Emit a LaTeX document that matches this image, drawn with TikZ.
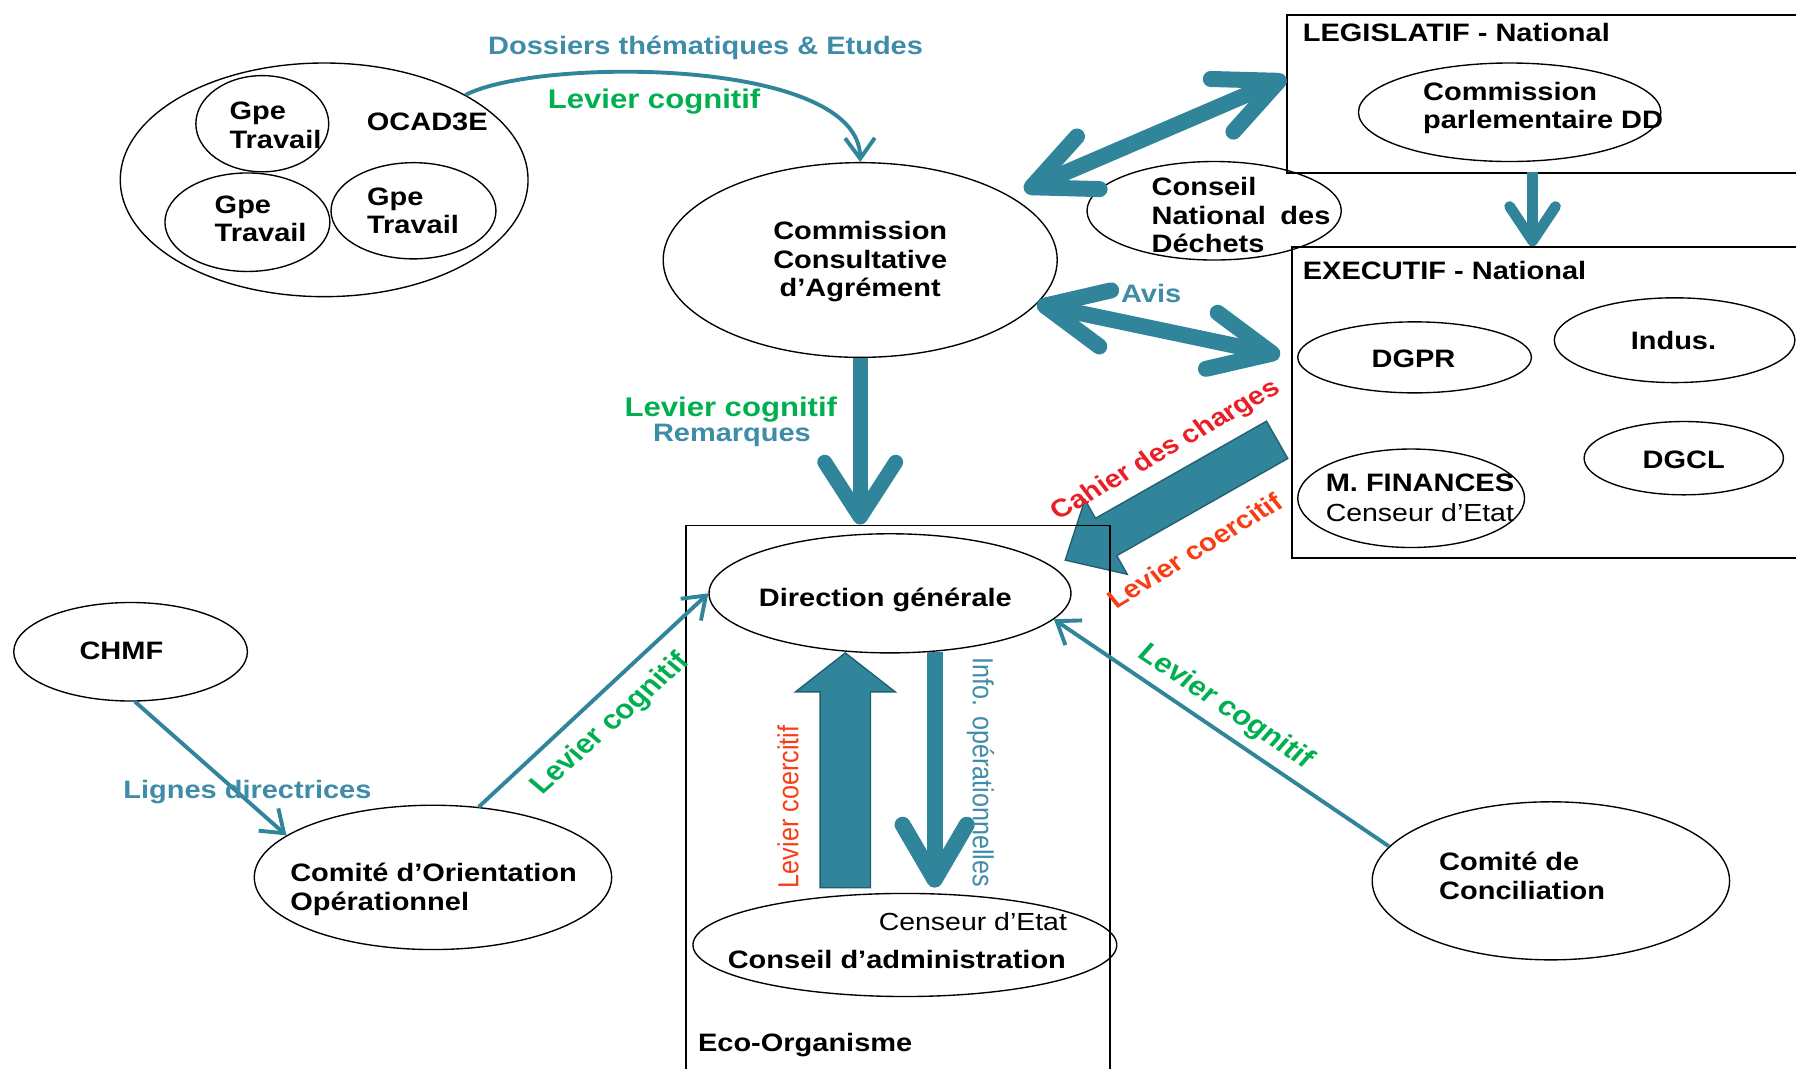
\documentclass[tikz,border=0pt]{standalone}
\usepackage{fontspec}
\setmainfont{Liberation Sans}
\usetikzlibrary{arrows.meta,shapes.geometric,calc}
\definecolor{teal1}{RGB}{49,133,155}
\definecolor{tealdk}{RGB}{33,95,112}
\definecolor{tealtxt}{RGB}{62,140,168}
\definecolor{grn}{RGB}{0,176,80}
\definecolor{redc}{RGB}{235,30,40}
\definecolor{redo}{RGB}{250,60,20}
\begin{document}
\begin{tikzpicture}[x=0.5pt,y=-0.5pt,
  ell/.style={ellipse, draw=black, line width=0.6pt, inner sep=0pt},
  boxn/.style={rectangle, draw=black, line width=0.8pt, inner sep=0pt, anchor=north west},
  tb/.style={font=\bfseries\fontsize{11}{12.5}\selectfont, inner sep=0pt, yshift=-1.2pt, xscale=1.15, align=left},
  tbg/.style={font=\bfseries\fontsize{11.8}{13}\selectfont, inner sep=0pt, yshift=-1.2pt, xscale=1.15, text=grn},
  tr/.style={font=\fontsize{10.8}{12.5}\selectfont, inner sep=0pt, yshift=-1.2pt, xscale=1.15},
  tarr/.style={draw=teal1, line width=1.7pt, -{Straight Barb[length=9pt,width=13pt]}},
  dbl/.style={draw=teal1, line width=7pt, {Straight Barb[round,length=27pt,width=25pt]}-{Straight Barb[round,length=27pt,width=25pt]}},
  blk/.style={fill=teal1, draw=tealdk, line width=0.6pt}
]
\useasboundingbox (0,0) rectangle (1568,933);

% block arrows
\path[blk] (1124.3,400.3) -- (975.0,485.1) -- (984.2,501.4) -- (930,489) -- (947.2,436.2) -- (956.4,452.5) -- (1105.7,367.7) -- cycle;
\path[blk] (716,775) -- (716,604) -- (694.5,604) -- (738,570) -- (781.5,604) -- (760,604) -- (760,775) -- cycle;

% boxes
\node[boxn, minimum width=228.5pt, minimum height=69pt] (leg) at (1123,12) {};
\node[boxn, minimum width=226.5pt, minimum height=135.5pt] (exe) at (1127,215) {};
\node[boxn, minimum width=185pt, minimum height=243.5pt] (eco) at (598,458) {};

% ellipses
\node[ell, minimum width=178pt, minimum height=102pt] (ocad) at (283,157) {};
\node[ell, minimum width=58pt, minimum height=42pt] (g1) at (229,108) {};
\node[ell, minimum width=72pt, minimum height=43pt] (g2) at (216,194) {};
\node[ell, minimum width=72pt, minimum height=42pt] (g3) at (361,184) {};
\node[ell, minimum width=172pt, minimum height=85pt] (comm) at (751,227) {};
\node[ell, minimum width=132pt, minimum height=43pt] (cpd) at (1318,98) {};
\node[ell, minimum width=111pt, minimum height=43pt] (cnd) at (1060,184) {};
\node[ell, minimum width=102pt, minimum height=31pt] (dgpr) at (1235,312) {};
\node[ell, minimum width=105pt, minimum height=37pt] (indus) at (1462,297) {};
\node[ell, minimum width=87pt, minimum height=32pt] (dgcl) at (1470,400) {};
\node[ell, minimum width=99pt, minimum height=43pt] (mfin) at (1232,435) {};
\node[ell, minimum width=158pt, minimum height=52pt] (dg) at (777,518) {};
\node[ell, minimum width=185pt, minimum height=45pt] (ca) at (790,825) {};
\node[ell, minimum width=102pt, minimum height=43pt] (chmf) at (114,569) {};
\node[ell, minimum width=156pt, minimum height=63pt] (coo) at (378,766) {};
\node[ell, minimum width=156pt, minimum height=69pt] (conc) at (1354,769) {};

% node texts
\node[tb, anchor=west] (tg1) at (200,107) {Gpe\\Travail};
\node[tb, anchor=west] (tg2) at (187,188.5) {Gpe\\Travail};
\node[tb, anchor=west] (tg3) at (320,181.5) {Gpe\\Travail};
\node[tb] (tocad) at (373,104) {OCAD3E};
\node[tb, align=center] (tcomm) at (751,226) {Commission\\Consultative\\d’Agrément};
\node[tb, anchor=west] (tleg) at (1137,26) {LEGISLATIF - National};
\node[tb, anchor=west] (tcpd) at (1242,92) {Commission\\parlementaire DD};
\node[tb, anchor=west] (tcnd) at (1005,185.5) {Conseil\\National\hspace{0.5em}des\\Déchets};
\node[tb, anchor=west] (texe) at (1137,234) {EXECUTIF - National};
\node[tb] (tdgpr) at (1234,311) {DGPR};
\node[tb] (tindus) at (1461,295) {Indus.};
\node[tb] (tdgcl) at (1470,399) {DGCL};
\node[tb, anchor=west] (tmf) at (1157,419) {M. FINANCES};
\node[tr, anchor=west] (tmfc) at (1157,445) {Censeur d’Etat};
\node[tb] (tdg) at (773,521) {Direction générale};
\node[tr, anchor=east] (tcac) at (932,802) {Censeur d’Etat};
\node[tb] (tca) at (783,835) {Conseil d’administration};
\node[tb, anchor=west] (teco) at (609,910) {Eco-Organisme};
\node[tb] (tchmf) at (106,566) {CHMF};
\node[tb, anchor=west] (tcoo) at (253,774) {Comité d’Orientation\\Opérationnel};
\node[tb, anchor=west] (tconc) at (1256,762) {Comité de\\Conciliation};

% connectors
\draw[tarr] (ocad.31) .. controls (470,50) and (750,50) .. (comm.north);
\draw[dbl, shorten <=6.5pt] (comm.23) -- ($(leg.north west)!0.4!(leg.south west)$);
\draw[dbl, shorten >=4.75pt] (comm.-14) -- ($(exe.north west)!0.356!(exe.south west)$);
\coordinate (legb) at (1338,150);
\draw[teal1, line width=4.7pt, -{Straight Barb[round,length=15pt,width=20pt]}] (legb) -- (legb |- exe.north);
\draw[teal1, line width=6.5pt, -{Straight Barb[round,length=24pt,width=31pt]}] (comm.south) -- (comm.south |- eco.north);
\coordinate (itop) at (816,569);
\coordinate (ibot) at (816,775);
\draw[teal1, line width=7pt, -{Straight Barb[round,length=24pt,width=28pt]}] (itop) -- (ibot);
\draw[tarr] (chmf.-85) -- (coo.164);
\draw[tarr] (coo.57) -- (dg.west);
\draw[tarr] (conc.168) -- (dg.-9);

% labels
\node[tb, text=tealtxt] (l1) at (616,39) {Dossiers thématiques \& Etudes};
\node[tbg] (l2) at (571,86) {Levier cognitif};
\node[tbg] (l3) at (638,355) {Levier cognitif};
\node[tb, text=tealtxt] (l4) at (639,378) {Remarques};
\node[tb, text=tealtxt] (l5) at (1005,254) {Avis};
\node[tb, text=tealtxt] (l6) at (216,689) {Lignes directrices};
\node[tb, text=redc, rotate=33.6] (l7) at (1018,391) {Cahier des charges};
\node[tb, text=redo, rotate=35] (l8) at (1043,478) {Levier coercitif};
\node[tbg, rotate=45.8] (l9) at (533,630) {Levier cognitif};
\node[tbg, rotate=-37.5] (l10) at (1070,615) {Levier cognitif};
\node[tr, font=\fontsize{11}{12}\selectfont, text=redo, rotate=90] (l11) at (688,702) {Levier coercitif};
\node[tr, font=\fontsize{11}{12}\selectfont, text=tealtxt, rotate=-90] (l12) at (856,672) {Info. opérationnelles};
\end{tikzpicture}
\end{document}
